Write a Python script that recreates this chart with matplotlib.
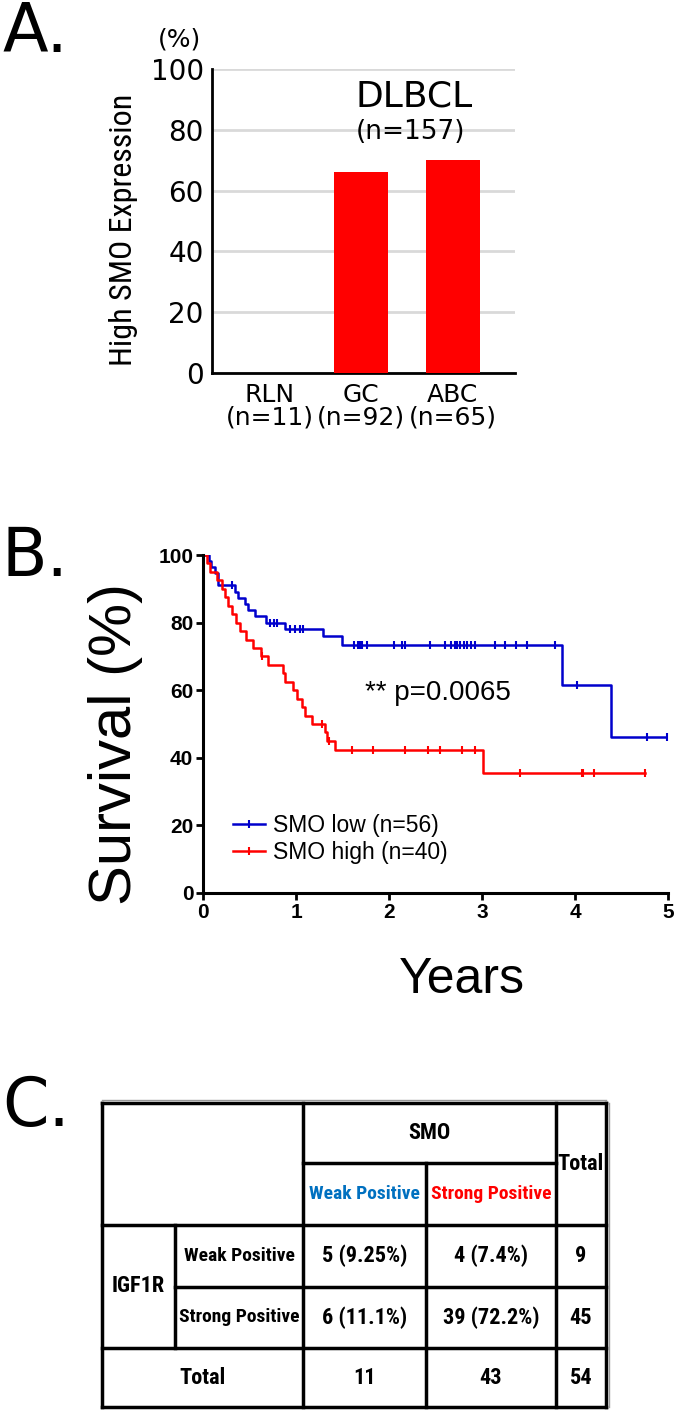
import numpy as np
import matplotlib
matplotlib.use('Agg')
import matplotlib.pyplot as plt
from matplotlib.lines import Line2D

# ---- panel A data
groups = ['RLN\n(n=11)', 'GC\n(n=92)', 'ABC\n(n=65)']
high_smo = [0, 66, 70]

# ---- panel B data (Kaplan-Meier)
low_t = [0, 0.06, 0.09, 0.13, 0.16, 0.34, 0.38, 0.45, 0.48, 0.56, 0.68, 0.88, 1.29, 1.49, 3.86, 4.39, 4.99]
low_s = [100, 98.2, 96.4, 94.6, 91.0, 89.2, 87.4, 85.6, 83.8, 81.9, 80.0, 78.2, 76.1, 73.4, 61.5, 46.3, 46.3]
low_cens = [0.31, 0.72, 0.76, 0.80, 0.94, 0.99, 1.04, 1.08, 1.62, 1.67, 1.69, 1.71, 1.76, 2.05,
            2.14, 2.17, 2.44, 2.60, 2.67, 2.71, 2.73, 2.76, 2.81, 2.84, 2.88, 2.93, 3.14, 3.25,
            3.37, 3.48, 3.78, 4.02, 4.77, 4.99]
high_t = [0, 0.04, 0.08, 0.15, 0.20, 0.24, 0.27, 0.31, 0.36, 0.40, 0.46, 0.54, 0.62, 0.70, 0.86,
          0.88, 0.97, 1.01, 1.06, 1.10, 1.17, 1.31, 1.33, 1.42, 3.01, 4.75]
high_s = [100, 97.5, 95, 92.5, 90, 87.5, 85, 82.5, 80, 77.5, 75, 72.5, 70, 67.5, 65,
          62.5, 60, 57.5, 55, 52.5, 50, 47.5, 45, 42.3, 35.4, 35.4]
high_cens = [0.63, 1.28, 1.35, 1.60, 1.83, 2.17, 2.42, 2.55, 2.78, 2.92, 3.41, 4.07, 4.09, 4.20, 4.75]

# ---- panel C data
smo_cols = ['Weak Positive', 'Strong Positive']
igf_rows = ['Weak Positive', 'Strong Positive']
counts = [['5 (9.25%)', '4 (7.4%)'], ['6 (11.1%)', '39 (72.2%)']]
row_tot = ['9', '45']
col_tot = ['11', '43', '54']

W, H = 685, 1418
fig = plt.figure(figsize=(W / 100, H / 100), dpi=100)

def box(l, t, r, b):
    return [l / W, 1 - b / H, (r - l) / W, (b - t) / H]

narrow = ['Roboto Condensed', 'Open Sans Condensed', 'Roboto', 'DejaVu Sans']

# ================= A
ax = fig.add_axes(box(212, 69, 515, 373))
x = np.arange(len(groups))
ax.bar(x, high_smo, width=0.59, color='#ff0000', zorder=3)
ax.set_xlim(-0.63, 2.68)
ax.set_ylim(0, 100)
ax.set_yticks([0, 20, 40, 60, 80, 100])
ax.yaxis.grid(True, color='#d9d9d9', lw=2, zorder=0)
ax.set_xticks(x)
ax.set_xticklabels(groups, fontsize=18, family='DejaVu Sans', linespacing=0.95)
ax.tick_params(axis='y', labelsize=20, length=0, pad=6)
ax.tick_params(axis='x', length=0, pad=7)
for s in ['top', 'right']:
    ax.spines[s].set_visible(False)
ax.spines['left'].set_linewidth(2)
ax.spines['bottom'].set_linewidth(2)
ax.set_ylabel('High SMO Expression', fontsize=23, family=narrow, fontweight='normal')
ax.yaxis.set_label_coords(-0.245, 0.47)
ax.text(1.58, 91, 'DLBCL', ha='center', va='center', fontsize=26)
ax.text(1.54, 79.3, '(n=157)', ha='center', va='center', fontsize=19)
fig.text(179 / W, 1 - 40 / H, '(%)', ha='center', va='center', fontsize=18)
fig.text(2 / W, 1 - 52 / H, 'A.', ha='left', va='baseline', fontsize=48)

# ================= B
bx = fig.add_axes(box(203, 555, 668, 893))
blue, red = '#0000cc', '#ff0000'
bx.step(low_t, low_s, where='post', color=blue, lw=1.8)
bx.step(high_t, high_s, where='post', color=red, lw=1.8)
for t, s, c, col in [(low_t, low_s, low_cens, blue), (high_t, high_s, high_cens, red)]:
    idx = np.searchsorted(t, c, side='right') - 1
    bx.plot(c, np.array(s)[idx], ls='none', marker='|', ms=6, mew=1.5, color=col)
bx.set_xlim(0, 5)
bx.set_ylim(0, 100)
bx.set_xticks(range(6))
bx.set_yticks(range(0, 101, 20))
for s in ['top', 'right']:
    bx.spines[s].set_visible(False)
bx.spines['left'].set_linewidth(2.2)
bx.spines['bottom'].set_linewidth(2.2)
bx.tick_params(width=2, length=5, labelsize=15, pad=2)
for lab in bx.get_xticklabels() + bx.get_yticklabels():
    lab.set_fontweight('bold')
    lab.set_family('Liberation Sans')
bx.set_ylabel('Survival (%)', fontsize=43, family='Liberation Sans')
bx.yaxis.set_label_coords(-0.13, 0.44)
bx.set_xlabel('Years', fontsize=36, family='Liberation Sans')
bx.xaxis.set_label_coords(0.557, -0.188)
bx.text(1.74, 59.2, '** p=0.0065', fontsize=20, family='Liberation Sans', va='center')
handles = [Line2D([], [], color=blue, lw=1.8, marker='|', ms=6, mew=1.5),
           Line2D([], [], color=red, lw=1.8, marker='|', ms=6, mew=1.5)]
bx.legend(handles, ['SMO low (n=56)', 'SMO high (n=40)'], loc='lower left',
          bbox_to_anchor=(0.045, 0.06), frameon=False,
          prop={'family': 'Liberation Sans', 'size': 16.5}, handlelength=1.4,
          handletextpad=0.35, labelspacing=0.15, borderaxespad=0)
fig.text(2 / W, 1 - 576 / H, 'B.', ha='left', va='baseline', fontsize=48)

# ================= C
fig.text(2 / W, 1 - 1126 / H, 'C.', ha='left', va='baseline', fontsize=48)
cx = fig.add_axes([0, 0, 1, 1], zorder=-1)
cx.set_xlim(0, W)
cx.set_ylim(H, 0)
cx.axis('off')
xe = [102, 175, 303, 426, 556, 606]
ye = [1103, 1163, 1225, 1287, 1348, 1407]
lw = 2.5
def hl(y, x0, x1):
    cx.plot([x0, x1], [y, y], color='black', lw=lw, solid_capstyle='projecting')
def vl(x0, y0, y1):
    cx.plot([x0, x0], [y0, y1], color='black', lw=lw, solid_capstyle='projecting')
hl(ye[0], xe[0], xe[5])
hl(ye[1], xe[2], xe[4])
hl(ye[2], xe[0], xe[5])
hl(ye[3], xe[1], xe[5])
hl(ye[4], xe[0], xe[5])
hl(ye[5], xe[0], xe[5])
vl(xe[0], ye[0], ye[5])
vl(xe[1], ye[2], ye[4])
vl(xe[2], ye[0], ye[5])
vl(xe[3], ye[1], ye[5])
vl(xe[4], ye[0], ye[5])
vl(xe[5], ye[0], ye[5])
cx.plot([xe[0], xe[5]], [ye[0] - 3, ye[0] - 3], color='#999999', lw=1)
cx.plot([xe[5] + 3, xe[5] + 3], [ye[0], ye[5]], color='#999999', lw=1)

tk = dict(ha='center', va='center', family=narrow, fontweight='bold', fontsize=16)
lk = dict(tk, fontsize=14)
cx.text((xe[2] + xe[4]) / 2, (ye[0] + ye[1]) / 2, 'SMO', **tk)
cx.text((xe[4] + xe[5]) / 2, (ye[0] + ye[2]) / 2, 'Total', **tk)
cx.text((xe[2] + xe[3]) / 2, (ye[1] + ye[2]) / 2, smo_cols[0], color='#0070c0', **lk)
cx.text((xe[3] + xe[4]) / 2, (ye[1] + ye[2]) / 2, smo_cols[1], color='#ff0000', **lk)
cx.text((xe[0] + xe[1]) / 2, (ye[2] + ye[4]) / 2, 'IGF1R', **tk)
for i in range(2):
    yc = (ye[2 + i] + ye[3 + i]) / 2
    cx.text((xe[1] + xe[2]) / 2, yc, igf_rows[i], **lk)
    for j in range(2):
        cx.text((xe[2 + j] + xe[3 + j]) / 2, yc, counts[i][j], **tk)
    cx.text((xe[4] + xe[5]) / 2, yc, row_tot[i], **tk)
yc = (ye[4] + ye[5]) / 2
cx.text((xe[0] + xe[2]) / 2, yc, 'Total', **tk)
for j in range(3):
    cx.text((xe[2 + j] + xe[3 + j]) / 2, yc, col_tot[j], **tk)

fig.savefig('out.png', dpi=100)
